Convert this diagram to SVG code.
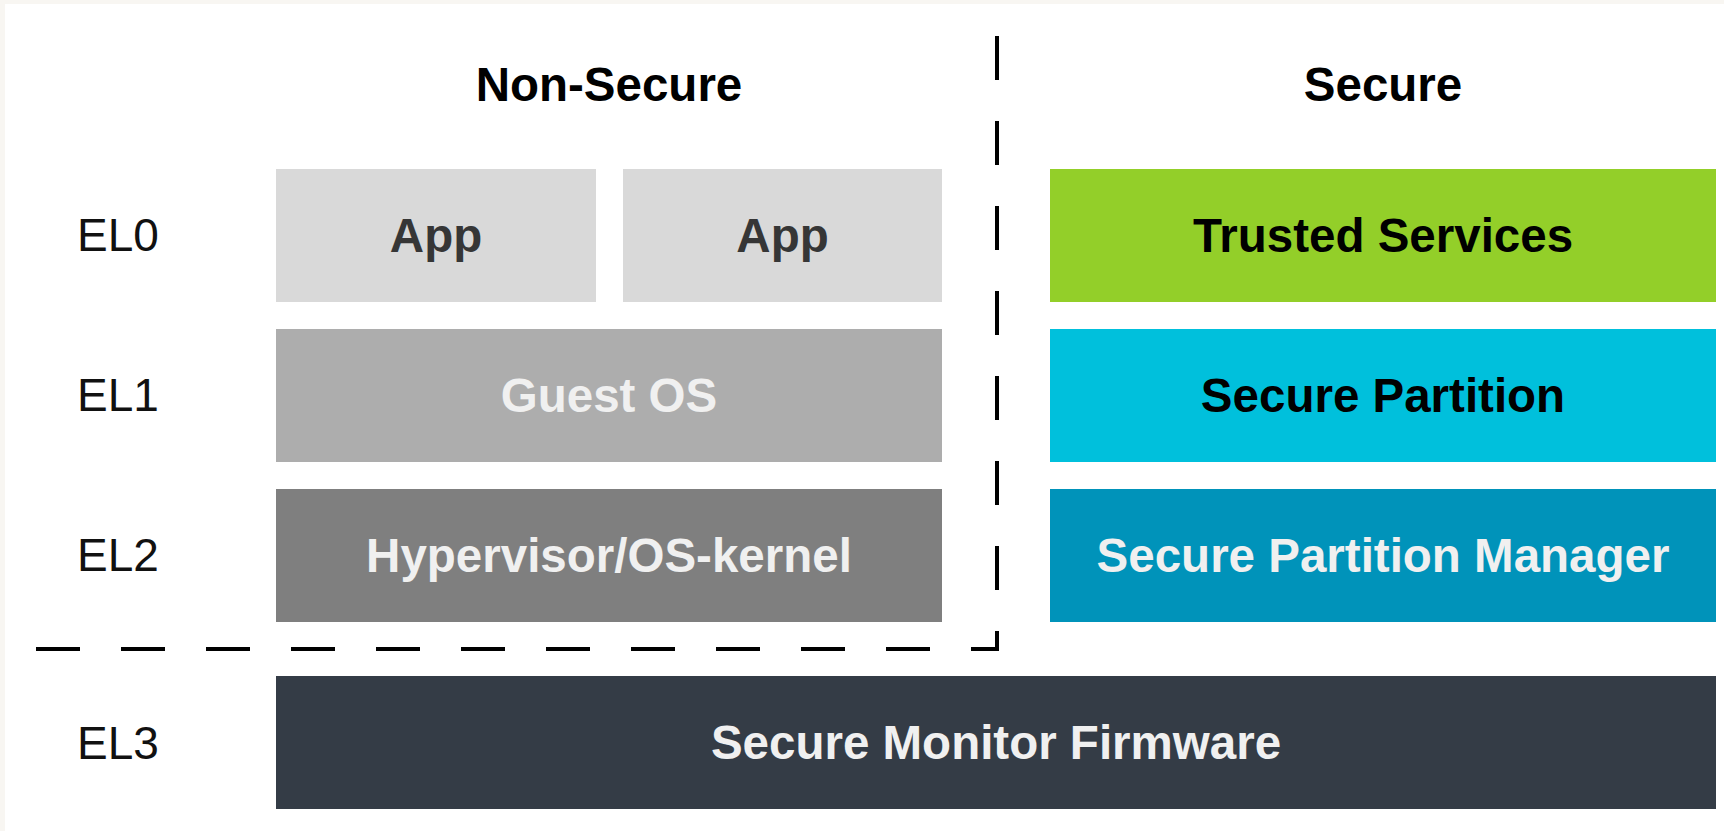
<svg xmlns="http://www.w3.org/2000/svg" width="1724" height="831" viewBox="0 0 1724 831">
  <style>
    .lbl { font-family: "Liberation Sans", Arial, sans-serif; font-weight: bold; font-size: 47.5px; text-anchor: middle; }
    .el { font-family: "Liberation Sans", Arial, sans-serif; font-size: 46px; fill: #111111; }
    .title { font-family: "Liberation Sans", Arial, sans-serif; font-weight: bold; font-size: 47.5px; text-anchor: middle; fill: #000000; }
    .light { fill: #f0f0f0; }
    .dark { fill: #363636; }
    .black { fill: #000000; }
  </style>
  <rect x="0" y="0" width="1724" height="831" fill="#f8f6f2"/>
  <rect x="5" y="4" width="1719" height="827" fill="#ffffff"/>

  <g id="titles">
    <text class="title" x="609" y="101">Non-Secure</text>
    <text class="title" x="1383" y="101">Secure</text>
  </g>

  <g id="el-labels">
    <text class="el" x="77" y="251">EL0</text>
    <text class="el" x="77" y="411">EL1</text>
    <text class="el" x="77" y="571">EL2</text>
    <text class="el" x="77" y="759">EL3</text>
  </g>

  <g id="app1">
    <rect x="276" y="169" width="320" height="133" fill="#d9d9d9"/>
    <text class="lbl dark" x="436" y="252">App</text>
  </g>
  <g id="app2">
    <rect x="623" y="169" width="319" height="133" fill="#d9d9d9"/>
    <text class="lbl dark" x="782.5" y="252">App</text>
  </g>
  <g id="guest-os">
    <rect x="276" y="329" width="666" height="133" fill="#adadad"/>
    <text class="lbl light" x="609" y="412">Guest OS</text>
  </g>
  <g id="hypervisor">
    <rect x="276" y="489" width="666" height="133" fill="#7f7f7f"/>
    <text class="lbl light" x="609" y="572">Hypervisor/OS-kernel</text>
  </g>
  <g id="trusted-services">
    <rect x="1050" y="169" width="666" height="133" fill="#93cf29"/>
    <text class="lbl black" x="1383" y="252">Trusted Services</text>
  </g>
  <g id="secure-partition">
    <rect x="1050" y="329" width="666" height="133" fill="#00c0dc"/>
    <text class="lbl black" x="1383" y="412">Secure Partition</text>
  </g>
  <g id="spm">
    <rect x="1050" y="489" width="666" height="133" fill="#0093ba"/>
    <text class="lbl light" x="1383" y="572">Secure Partition Manager</text>
  </g>
  <g id="smf">
    <rect x="276" y="676" width="1440" height="133" fill="#343c46"/>
    <text class="lbl light" x="996" y="759">Secure Monitor Firmware</text>
  </g>

  <g id="connectors">
    <path d="M36,649 H997 V35" fill="none" stroke="#000000" stroke-width="4" stroke-dasharray="44 41"/>
  </g>
</svg>
